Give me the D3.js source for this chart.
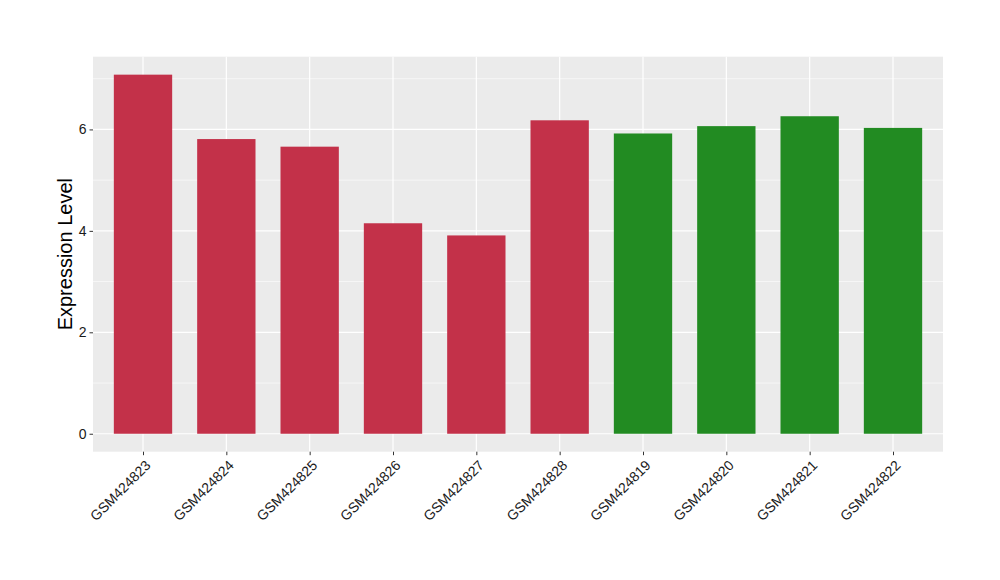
<!DOCTYPE html>
<html><head><meta charset="utf-8">
<script src="https://cdn.jsdelivr.net/npm/d3@7"></script>
<style>body{margin:0;background:#fff}svg{display:block}</style>
</head><body><svg id="c" width="1000" height="580"></svg>
<script>
const categories = ["GSM424823","GSM424824","GSM424825","GSM424826","GSM424827","GSM424828","GSM424819","GSM424820","GSM424821","GSM424822"];
const values = [7.08, 5.81, 5.66, 4.15, 3.91, 6.18, 5.92, 6.065, 6.26, 6.03];
const groups = ["a","a","a","a","a","a","b","b","b","b"];
const yTicks = [0, 2, 4, 6];
const yMinor = [1, 3, 5, 7];

const colors = {a: "#C33149", b: "#228B22"};
const FONT = "Liberation Sans, Arial, Helvetica, sans-serif";
const svg = d3.select("#c");
const L = 93, R = 943, T = 56.7, B = 451.7;
const maxV = d3.max(values);
const y = d3.scaleLinear().domain([-0.05*maxV, maxV*1.05]).range([B, T]);
const step = (R - L) / (categories.length - 1 + 1.2);
const x = d3.scalePoint().domain(categories).range([L + 0.6*step, R - 0.6*step]);
const bw = step * 0.7;

svg.append("rect").attr("x", L).attr("y", T).attr("width", R-L).attr("height", B-T).attr("fill", "#EBEBEB");
svg.selectAll(".minor").data(yMinor).join("line")
  .attr("x1", L).attr("x2", R).attr("y1", d=>y(d)).attr("y2", d=>y(d))
  .attr("stroke", "#fff").attr("stroke-width", 0.6);
svg.selectAll(".major").data(yTicks).join("line")
  .attr("x1", L).attr("x2", R).attr("y1", d=>y(d)).attr("y2", d=>y(d))
  .attr("stroke", "#fff").attr("stroke-width", 1.2);
svg.selectAll(".vg").data(categories).join("line")
  .attr("x1", d=>x(d)).attr("x2", d=>x(d)).attr("y1", T).attr("y2", B)
  .attr("stroke", "#fff").attr("stroke-width", 1.2);

svg.selectAll(".bar").data(categories).join("rect")
  .attr("x", d=>x(d)-bw/2).attr("width", bw)
  .attr("y", (d,i)=>y(values[i])).attr("height", (d,i)=>y(0)-y(values[i]))
  .attr("fill", (d,i)=>colors[groups[i]]);

const yAxis = d3.axisLeft(y).tickValues(yTicks).tickSize(3.5).tickPadding(3).tickFormat(d3.format("d"));
const gy = svg.append("g").attr("transform", `translate(${L},0)`).call(yAxis)
  .attr("font-family", FONT).attr("font-size", 14);
gy.select(".domain").remove();
gy.selectAll("line").attr("stroke", "#333");
gy.selectAll("text").style("font-size", "14px").style("font-family", FONT).attr("fill", "#1a1a1a");

const xAxis = d3.axisBottom(x).tickSize(3.5).tickFormat("");
const gx = svg.append("g").attr("transform", `translate(0,${B})`).call(xAxis);
gx.select(".domain").remove();
gx.selectAll("line").attr("stroke", "#333");

svg.append("g").selectAll("text").data(categories).join("text")
  .attr("transform", d => `translate(${x(d)+1.5},${B+7.5}) rotate(-45)`)
  .attr("text-anchor", "end").attr("dy", "0.71em")
  .style("font-family", FONT).style("font-size", "14px").attr("fill", "#1a1a1a")
  .text(d => d);

svg.append("text").attr("transform", `translate(72,${(T+B)/2}) rotate(-90)`)
  .attr("text-anchor", "middle").style("font-family", FONT)
  .style("font-size", "20px").attr("fill", "#000").text("Expression Level");
</script></body></html>
